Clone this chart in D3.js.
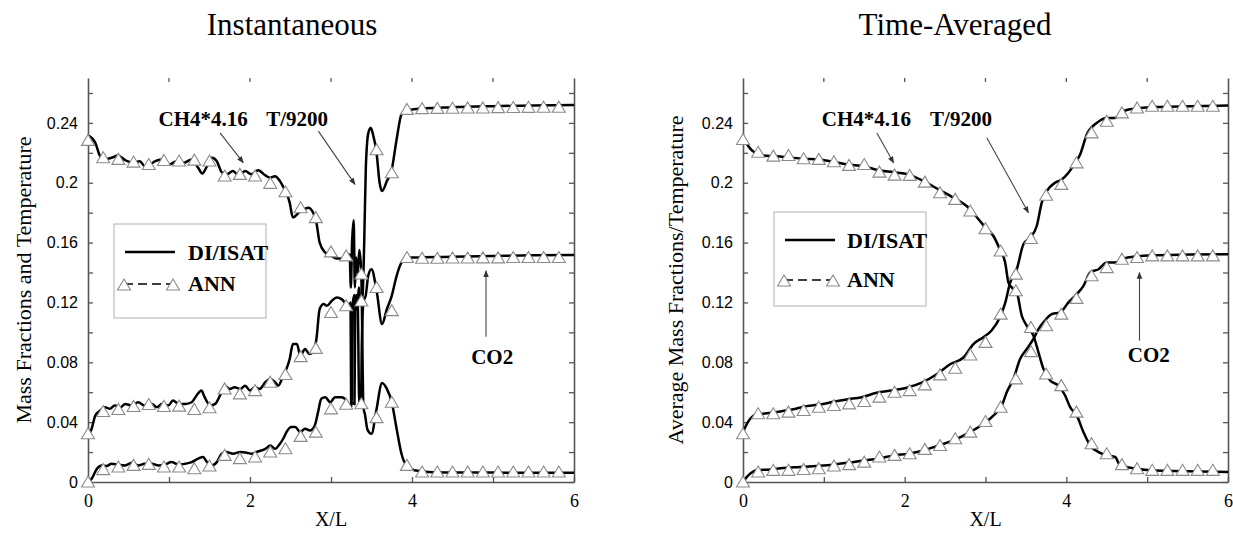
<!DOCTYPE html>
<html><head><meta charset="utf-8">
<script src="https://cdn.jsdelivr.net/npm/d3@7"></script>
<style>body{margin:0;background:#fff}</style>
</head><body><svg id="c" width="1233" height="535"></svg>
<script>
// ---------- DATA ----------
const xTickValues = [0, 1, 2, 3, 4, 5, 6];
const xTickLabels = ["0", "", "2", "", "4", "", "6"];
const yTickValues = [0, 0.02, 0.04, 0.06, 0.08, 0.10, 0.12, 0.14, 0.16, 0.18, 0.20, 0.22, 0.24, 0.26];
const yTickLabels = ["0", "", "0.04", "", "0.08", "", "0.12", "", "0.16", "", "0.2", "", "0.24", ""];
const panelTitles = ["Instantaneous", "Time-Averaged"];
const yAxisTitles = ["Mass Fractions and Temperature", "Average Mass Fractions/Temperature"];
const xAxisTitle = "X/L";
const legendLabels = ["DI/ISAT", "ANN"];
const annotationLabels = ["CH4*4.16", "T/9200", "CO2"];

// marker x positions (ANN), 32 points
const markerX = d3.range(32).map(i => i * 0.1875);

// Instantaneous DI/ISAT lines [x, value]
const instCH4 = [[0,0.2316],[0.09,0.2267],[0.15,0.2178],[0.21,0.2156],[0.29,0.2167],[0.37,0.2182],[0.46,0.2151],[0.56,0.2133],[0.64,0.2144],[0.70,0.2111],[0.77,0.2122],[0.83,0.2144],[0.91,0.2156],[1.01,0.2122],[1.09,0.2144],[1.18,0.2133],[1.28,0.2156],[1.36,0.21],[1.41,0.2062],[1.47,0.2111],[1.53,0.2167],[1.59,0.2144],[1.65,0.2071],[1.71,0.2056],[1.79,0.2078],[1.86,0.2049],[1.94,0.2078],[2.02,0.2056],[2.10,0.2084],[2.19,0.2049],[2.25,0.2033],[2.31,0.2044],[2.37,0.2011],[2.41,0.1973],[2.45,0.1933],[2.49,0.1867],[2.53,0.1767],[2.60,0.18],[2.66,0.1822],[2.72,0.1833],[2.78,0.18],[2.82,0.1733],[2.86,0.16],[2.93,0.1533],[2.99,0.1516],[3.07,0.1493],[3.15,0.1493],[3.21,0.1516],[3.23,0.152],[3.245,0.13],[3.26,0.16],[3.28,0.175],[3.295,0.13],[3.31,0.15],[3.33,0.14],[3.35,0.155],[3.375,0.139],[3.39,0.08],[3.40,0.05],[3.42,0.045],[3.45,0.035],[3.50,0.0322],[3.56,0.048],[3.63,0.0662],[3.69,0.0622],[3.75,0.0533],[3.81,0.0356],[3.87,0.0189],[3.93,0.0111],[4.03,0.0078],[4.2,0.0067],[4.5,0.0064],[5,0.0063],[5.5,0.0062],[6,0.0062]];
const instT = [[0,0.0311],[0.045,0.0356],[0.09,0.0444],[0.15,0.0478],[0.21,0.05],[0.27,0.0489],[0.33,0.0511],[0.40,0.05],[0.46,0.0522],[0.54,0.0511],[0.62,0.0533],[0.70,0.0511],[0.79,0.0522],[0.85,0.05],[0.91,0.0522],[0.99,0.0511],[1.05,0.0544],[1.12,0.0522],[1.20,0.0522],[1.28,0.0533],[1.34,0.0578],[1.40,0.0611],[1.44,0.0567],[1.51,0.0511],[1.57,0.0522],[1.63,0.0578],[1.69,0.0644],[1.75,0.0622],[1.81,0.0633],[1.88,0.0622],[1.94,0.0644],[2.00,0.0611],[2.06,0.0633],[2.12,0.0622],[2.19,0.0667],[2.25,0.0689],[2.31,0.0667],[2.35,0.0644],[2.41,0.0711],[2.45,0.0756],[2.49,0.0822],[2.53,0.0922],[2.58,0.0922],[2.62,0.0844],[2.68,0.0889],[2.73,0.0856],[2.78,0.0867],[2.82,0.0956],[2.86,0.1156],[2.91,0.1189],[2.95,0.1178],[3.01,0.1211],[3.07,0.1233],[3.13,0.1222],[3.19,0.1189],[3.23,0.1178],[3.24,0.12],[3.25,0.05],[3.26,0.06],[3.27,0.12],[3.29,0.125],[3.31,0.115],[3.33,0.12],[3.345,0.13],[3.36,0.12],[3.375,0.121],[3.39,0.125],[3.41,0.16],[3.43,0.21],[3.46,0.233],[3.49,0.2367],[3.52,0.232],[3.5625,0.22],[3.60,0.2],[3.63,0.1944],[3.69,0.2011],[3.75,0.2089],[3.81,0.2289],[3.87,0.2456],[3.93,0.2478],[4.0,0.249],[4.5,0.2505],[5,0.2512],[5.5,0.2516],[6,0.252]];
const instCO2 = [[0,0],[0.045,0.0022],[0.11,0.0089],[0.17,0.0111],[0.23,0.0107],[0.29,0.0122],[0.37,0.0116],[0.46,0.0111],[0.54,0.0129],[0.62,0.0111],[0.70,0.0122],[0.79,0.0122],[0.87,0.0111],[0.95,0.0116],[1.03,0.0133],[1.12,0.0116],[1.20,0.0122],[1.28,0.0133],[1.36,0.0156],[1.42,0.0167],[1.47,0.0133],[1.53,0.0111],[1.59,0.0133],[1.65,0.0189],[1.71,0.02],[1.79,0.0189],[1.88,0.02],[1.96,0.0196],[2.02,0.0189],[2.10,0.0204],[2.19,0.0222],[2.25,0.0244],[2.31,0.0222],[2.37,0.0256],[2.41,0.0289],[2.45,0.0333],[2.51,0.0367],[2.56,0.0367],[2.62,0.0333],[2.68,0.0356],[2.74,0.0344],[2.80,0.0378],[2.84,0.0467],[2.88,0.0556],[2.93,0.0567],[2.99,0.0533],[3.05,0.0567],[3.13,0.0567],[3.19,0.0544],[3.23,0.05],[3.26,0.053],[3.29,0.052],[3.30,0.12],[3.315,0.125],[3.33,0.12],[3.345,0.06],[3.355,0.05],[3.37,0.052],[3.38,0.09],[3.40,0.12],[3.43,0.125],[3.46,0.138],[3.50,0.1422],[3.5625,0.128],[3.63,0.1056],[3.69,0.1156],[3.75,0.1244],[3.81,0.1378],[3.87,0.1467],[3.93,0.1496],[4.0,0.15],[4.5,0.1505],[5,0.151],[5.5,0.1515],[6,0.1517]];

// Instantaneous ANN markers (at markerX)
const instCH4Ann = [0.2283,0.2167,0.2156,0.2138,0.2122,0.2149,0.2145,0.2151,0.2145,0.2045,0.2056,0.2045,0.1996,0.194,0.1833,0.1767,0.1538,0.1511,0.139,0.043,0.0533,0.0111,0.0067,0.0067,0.0067,0.0067,0.0067,0.0067,0.0067,0.0067,0.0067,0.0067];
const instTAnn = [0.0322,0.0471,0.0485,0.0505,0.0518,0.0505,0.0507,0.0485,0.0496,0.0622,0.0589,0.0611,0.0667,0.0718,0.0838,0.0893,0.1133,0.1178,0.121,0.222,0.2067,0.249,0.2495,0.2497,0.2498,0.25,0.25,0.2502,0.2503,0.2504,0.2505,0.2505];
const instCO2Ann = [0,0.0083,0.01,0.0111,0.0118,0.01,0.01,0.0089,0.0107,0.0178,0.0156,0.0167,0.02,0.0222,0.0305,0.0333,0.0489,0.052,0.0523,0.130,0.1145,0.150,0.1495,0.1495,0.1497,0.1497,0.1498,0.1498,0.15,0.15,0.15,0.15];

// Time-averaged DI/ISAT lines
const avgCH4 = [[0,0.2311],[0.066,0.2244],[0.149,0.22],[0.252,0.2182],[0.375,0.2178],[0.54,0.2171],[0.747,0.216],[0.932,0.2156],[1.118,0.214],[1.304,0.2122],[1.489,0.2111],[1.675,0.2084],[1.861,0.2071],[2.046,0.2056],[2.232,0.2011],[2.417,0.1956],[2.603,0.19],[2.789,0.1833],[2.913,0.1756],[2.995,0.1704],[3.098,0.1644],[3.181,0.1551],[3.243,0.1467],[3.284,0.1333],[3.325,0.13],[3.387,0.1267],[3.449,0.1111],[3.511,0.1044],[3.593,0.0978],[3.655,0.0867],[3.717,0.0756],[3.8,0.0678],[3.903,0.0644],[3.985,0.0578],[4.047,0.05],[4.13,0.0444],[4.212,0.0333],[4.295,0.0244],[4.398,0.02],[4.501,0.0178],[4.604,0.0167],[4.666,0.0111],[4.81,0.0093],[5.037,0.0078],[5.326,0.0073],[5.656,0.0071],[6,0.0067]];
const avgT = [[0,0.0333],[0.066,0.0405],[0.149,0.0447],[0.293,0.0459],[0.458,0.0471],[0.623,0.0486],[0.788,0.0507],[0.953,0.0518],[1.118,0.0536],[1.283,0.0552],[1.469,0.0567],[1.654,0.0596],[1.84,0.0612],[2.026,0.063],[2.211,0.0664],[2.397,0.072],[2.562,0.0787],[2.727,0.0832],[2.851,0.0922],[2.974,0.0968],[3.078,0.1014],[3.181,0.1105],[3.243,0.1196],[3.305,0.1333],[3.387,0.1422],[3.469,0.1589],[3.552,0.1633],[3.634,0.1711],[3.696,0.1867],[3.758,0.1944],[3.861,0.2],[3.944,0.2022],[4.026,0.2067],[4.109,0.2133],[4.171,0.2189],[4.253,0.2322],[4.377,0.24],[4.501,0.2433],[4.604,0.2433],[4.666,0.2467],[4.769,0.2489],[4.913,0.25],[5.161,0.2507],[5.532,0.2511],[6,0.2516]];
const avgCO2 = [[0,0],[0.066,0.0044],[0.169,0.0078],[0.334,0.0084],[0.499,0.0093],[0.705,0.01],[0.912,0.0107],[1.118,0.0116],[1.304,0.0129],[1.489,0.0144],[1.675,0.0156],[1.861,0.0178],[2.046,0.0189],[2.232,0.0211],[2.417,0.0244],[2.603,0.0278],[2.809,0.0333],[2.974,0.0389],[3.098,0.0444],[3.201,0.0511],[3.263,0.06],[3.346,0.0689],[3.428,0.0822],[3.511,0.0889],[3.593,0.0956],[3.655,0.1022],[3.717,0.1067],[3.82,0.1122],[3.923,0.1133],[4.026,0.12],[4.13,0.1256],[4.212,0.1311],[4.295,0.14],[4.398,0.1422],[4.501,0.1467],[4.604,0.1467],[4.707,0.1493],[4.851,0.1507],[5.12,0.1516],[5.532,0.152],[6,0.1522]];

// Time-averaged ANN markers
const avgCH4Ann = [0.2289,0.2204,0.2178,0.2182,0.216,0.2156,0.214,0.2116,0.2122,0.2071,0.2051,0.2049,0.2004,0.1933,0.1889,0.1811,0.1693,0.1544,0.1278,0.1033,0.0722,0.0644,0.0467,0.0256,0.0189,0.0116,0.0089,0.0078,0.0078,0.0078,0.0078,0.0078];
const avgTAnn = [0.0322,0.0456,0.0456,0.0467,0.0478,0.05,0.0511,0.0522,0.0538,0.0567,0.06,0.0611,0.0649,0.0716,0.076,0.0849,0.0933,0.1122,0.1389,0.1627,0.1916,0.1989,0.2133,0.2333,0.2411,0.2467,0.25,0.2511,0.2511,0.2511,0.2511,0.2511];
const avgCO2Ann = [0,0.0067,0.0078,0.0078,0.0084,0.0089,0.0107,0.0116,0.0133,0.0167,0.0178,0.0189,0.0218,0.0244,0.0289,0.0333,0.0404,0.05,0.0689,0.0871,0.1044,0.1122,0.1227,0.1378,0.1433,0.1489,0.15,0.1511,0.1511,0.1511,0.1511,0.1511];

// ---------- LAYOUT ----------
const svg = d3.select('#c');
const yTop = 78, yBot = 482;
const y = d3.scaleLinear().domain([0, 0.27]).range([yBot, yTop]);
const serif = "'Liberation Serif','Times New Roman',serif";
const sans = "'Liberation Sans',Arial,sans-serif";
const axisColor = '#555';

const defs = svg.append('defs');
defs.append('marker').attr('id', 'ah').attr('viewBox', '0 0 10 10')
  .attr('refX', 9).attr('refY', 5).attr('markerWidth', 7).attr('markerHeight', 7)
  .attr('orient', 'auto-start-reverse').attr('markerUnits', 'userSpaceOnUse')
  .append('path').attr('d', 'M0,1L10,5L0,9Z').attr('fill', '#333');

const triPath = 'M0,-6L6.5,5L-6.5,5Z';

const panels = [
  { x0: 88, x1: 574, titleX: 292, ylabX: 31,
    lines: [instCH4, instT, instCO2], anns: [instCH4Ann, instTAnn, instCO2Ann],
    legend: { x: 114, y: 224, w: 152, h: 94, row1: 28, row2: 60, textX: 74 },
    labels: { ch4: [0.87, 0.2378], t: [2.2, 0.2378], co2: [4.99, 0.0791] },
    arrows: [ [[1.63, 0.2333], [1.917, 0.2134]], [[2.844, 0.2345], [3.296, 0.1989]], [[4.914, 0.0971], [4.914, 0.1411]] ] },
  { x0: 743, x1: 1228, titleX: 955, ylabX: 683,
    lines: [avgCH4, avgT, avgCO2], anns: [avgCH4Ann, avgTAnn, avgCO2Ann],
    legend: { x: 774, y: 212, w: 152, h: 94, row1: 28, row2: 68, textX: 73 },
    labels: { ch4: [0.974, 0.2382], t: [2.314, 0.2382], co2: [5.02, 0.0805] },
    arrows: [ [[1.656, 0.2333], [1.863, 0.2133]], [[3.016, 0.23], [3.531, 0.18]], [[4.905, 0.0945], [4.905, 0.140]] ] }
];

panels.forEach((p, pi) => {
  const x = d3.scaleLinear().domain([0, 6]).range([p.x0, p.x1]);
  const g = svg.append('g');

  // title
  g.append('text').attr('x', p.titleX).attr('y', 35).attr('text-anchor', 'middle')
    .style('font-family', serif).style('font-size', '31px').text(panelTitles[pi]);

  // left axis
  const ax = g.append('g').attr('transform', `translate(${p.x0},0)`)
    .call(d3.axisLeft(y).tickValues(yTickValues).tickSize(-5).tickSizeOuter(0).tickPadding(10)
      .tickFormat((d, i) => yTickLabels[i]));
  // right axis
  const axr = g.append('g').attr('transform', `translate(${p.x1},0)`)
    .call(d3.axisRight(y).tickValues(yTickValues).tickSize(-5).tickSizeOuter(0).tickFormat(''));
  // bottom axis
  const axb = g.append('g').attr('transform', `translate(0,${yBot})`)
    .call(d3.axisBottom(x).tickValues(xTickValues).tickSize(-5).tickSizeOuter(0).tickPadding(12)
      .tickFormat((d, i) => xTickLabels[i]));
  [ax, axr, axb].forEach(a => {
    a.select('.domain').attr('stroke', axisColor).attr('stroke-width', 1.6);
    a.selectAll('.tick line').attr('stroke', axisColor).attr('stroke-width', 1.3);
  });
  ax.selectAll('text').style('font-family', sans).style('font-size', '16px').attr('fill', '#000');
  axb.selectAll('text').style('font-family', serif).style('font-size', '18px').attr('fill', '#000');
  // top tick marks (no line)
  g.selectAll('.ttick').data(xTickValues.slice(1, -1)).enter().append('line')
    .attr('x1', d => x(d)).attr('x2', d => x(d)).attr('y1', yTop).attr('y2', yTop + 4)
    .attr('stroke', axisColor).attr('stroke-width', 1.3);

  // axis titles
  g.append('text').attr('transform', `translate(${p.ylabX},${(yTop + yBot) / 2}) rotate(-90)`)
    .attr('text-anchor', 'middle').style('font-family', serif).style('font-size', '22px')
    .text(yAxisTitles[pi]);
  g.append('text').attr('x', (p.x0 + p.x1) / 2).attr('y', 526).attr('text-anchor', 'middle')
    .style('font-family', serif).style('font-size', '20px').text(xAxisTitle);

  // DI/ISAT lines
  p.lines.forEach(ld => {
    g.append('path').datum(ld).attr('d', d3.line().x(d => x(d[0])).y(d => y(d[1])).curve(d3.curveMonotoneX))
      .attr('fill', 'none').attr('stroke', '#000').attr('stroke-width', 2.5).attr('stroke-linejoin', 'round');
  });
  // ANN markers
  p.anns.forEach(vals => {
    g.selectAll(null).data(vals.map((v, i) => [markerX[i], v])).enter().append('path')
      .attr('d', triPath).attr('transform', d => `translate(${x(d[0])},${y(d[1])})`)
      .attr('fill', '#fff').attr('stroke', '#8a8a8a').attr('stroke-width', 1.1);
  });

  // legend
  const L = p.legend;
  const lg = g.append('g').attr('transform', `translate(${L.x},${L.y})`);
  lg.append('rect').attr('width', L.w).attr('height', L.h).attr('fill', '#fff')
    .attr('stroke', '#b0b0b0').attr('stroke-width', 1);
  lg.append('line').attr('x1', 11).attr('x2', 61).attr('y1', L.row1).attr('y2', L.row1)
    .attr('stroke', '#000').attr('stroke-width', 2.4);
  lg.append('text').attr('x', L.textX).attr('y', L.row1 + 8).style('font-family', serif)
    .style('font-weight', 'bold').style('font-size', '22px').text(legendLabels[0]);
  lg.append('line').attr('x1', 10).attr('x2', 59).attr('y1', L.row2).attr('y2', L.row2)
    .attr('stroke', '#000').attr('stroke-width', 1.6).attr('stroke-dasharray', '9,5');
  [10, 59].forEach(tx => lg.append('path').attr('d', triPath).attr('transform', `translate(${tx},${L.row2 + 1})`)
    .attr('fill', '#fff').attr('stroke', '#8a8a8a').attr('stroke-width', 1.1));
  lg.append('text').attr('x', L.textX).attr('y', L.row2 + 7).style('font-family', serif)
    .style('font-weight', 'bold').style('font-size', '22px').text(legendLabels[1]);

  // annotations
  const ann = g.append('g').style('font-family', serif).style('font-weight', 'bold').style('font-size', '21px');
  ann.append('text').attr('x', x(p.labels.ch4[0])).attr('y', y(p.labels.ch4[1])).text(annotationLabels[0]);
  ann.append('text').attr('x', x(p.labels.t[0])).attr('y', y(p.labels.t[1])).text(annotationLabels[1]);
  ann.append('text').attr('x', x(p.labels.co2[0])).attr('y', y(p.labels.co2[1])).attr('text-anchor', 'middle').text(annotationLabels[2]);
  p.arrows.forEach(a => {
    g.append('line').attr('x1', x(a[0][0])).attr('y1', y(a[0][1])).attr('x2', x(a[1][0])).attr('y2', y(a[1][1]))
      .attr('stroke', '#444').attr('stroke-width', 1.1).attr('marker-end', 'url(#ah)');
  });
});
</script></body></html>
